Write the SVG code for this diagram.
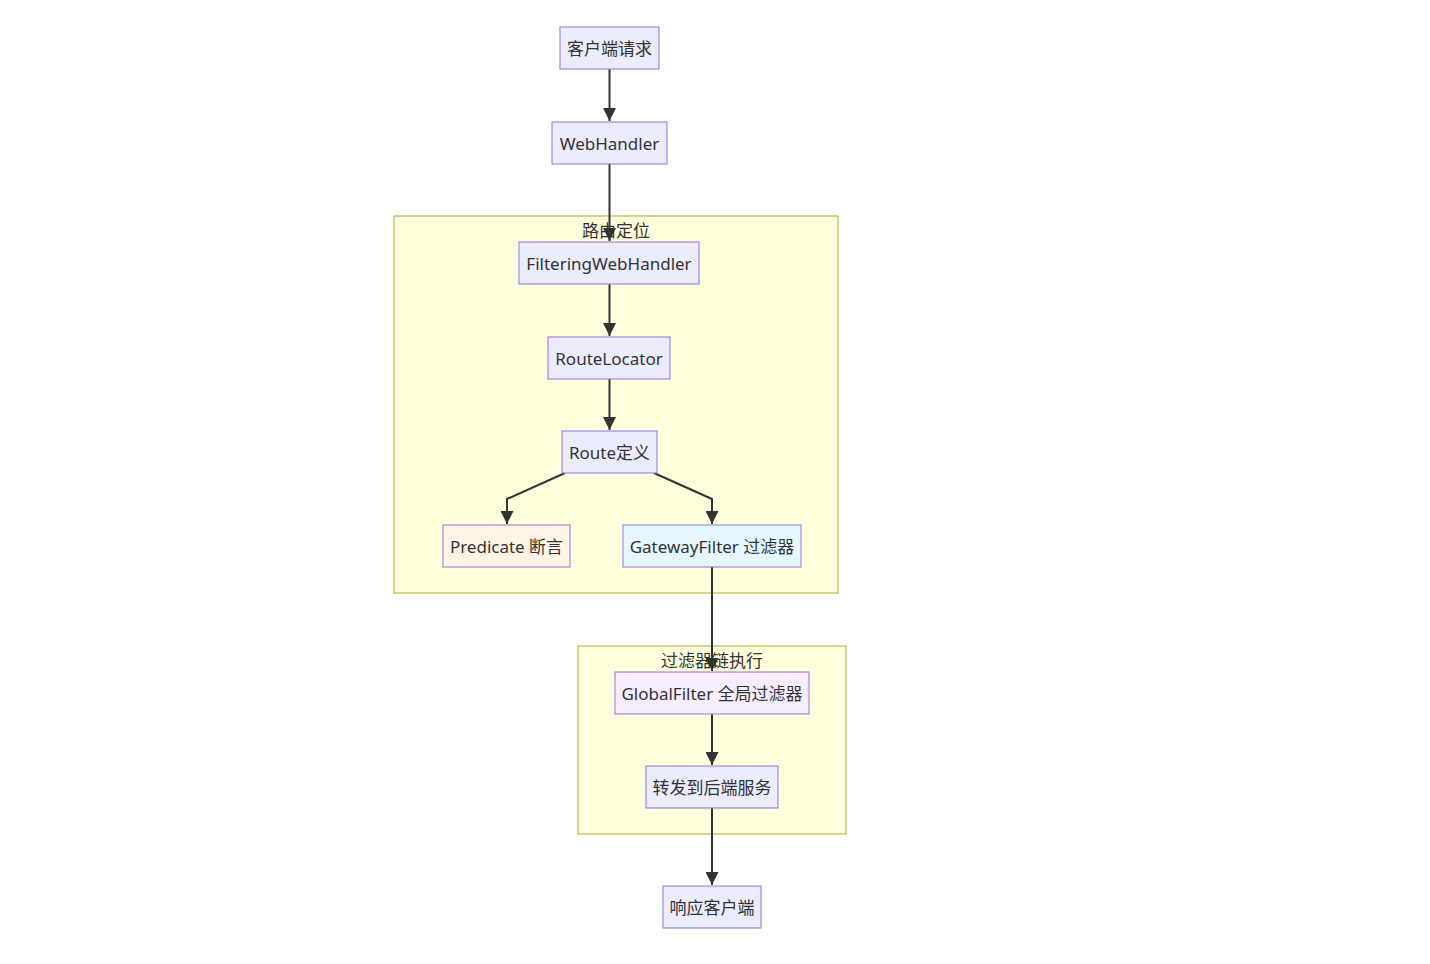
<svg xmlns="http://www.w3.org/2000/svg" width="1430" height="964" viewBox="0 0 1430 964">
<style>
text{font-family:"Noto Sans","Noto Sans CJK SC",sans-serif;font-size:17px;fill:#333;text-anchor:middle;dominant-baseline:central}
.cl{fill:#FFFFDE;stroke:#AAAA33;stroke-width:1}
.n{fill:#ECECFF;stroke:#9370DB;stroke-width:1}
.e{fill:none;stroke:#333;stroke-width:2}
</style>
<defs>
<marker id="ah" viewBox="0 0 10 10" refX="10" refY="5" markerWidth="6.5" markerHeight="6.5" markerUnits="strokeWidth" orient="auto">
<path d="M0,0L10,5L0,10z" fill="#333"/>
</marker>
</defs>
<g id="cluster-route">
<rect class="cl" x="394" y="216" width="444" height="377"/>
<text x="616" y="230">路由定位</text>
</g>
<g id="cluster-chain">
<rect class="cl" x="578" y="646" width="268" height="188"/>
<text x="712" y="660">过滤器链执行</text>
</g>
<g id="edges">
<path class="e" d="M609.5,69V121" marker-end="url(#ah)"/>
<path class="e" d="M609.5,164V241" marker-end="url(#ah)"/>
<path class="e" d="M609.5,284V336" marker-end="url(#ah)"/>
<path class="e" d="M609.5,379V430" marker-end="url(#ah)"/>
<path class="e" d="M565,473L507,499V524" marker-end="url(#ah)"/>
<path class="e" d="M654,473L712,499V524" marker-end="url(#ah)"/>
<path class="e" d="M712,567V671" marker-end="url(#ah)"/>
<path class="e" d="M712,714V765" marker-end="url(#ah)"/>
<path class="e" d="M712,808V885" marker-end="url(#ah)"/>
</g>
<g id="n-client"><rect class="n" x="560" y="27" width="99" height="42"/><text x="609.5" y="48">客户端请求</text></g>
<g id="n-webhandler"><rect class="n" x="552" y="122" width="115" height="42"/><text x="609.5" y="143">WebHandler</text></g>
<g id="n-fwh"><rect class="n" x="519" y="242" width="180" height="42"/><text x="609" y="263">FilteringWebHandler</text></g>
<g id="n-rl"><rect class="n" x="548" y="337" width="122" height="42"/><text x="609" y="358">RouteLocator</text></g>
<g id="n-route"><rect class="n" x="562" y="431" width="95" height="42"/><text x="609.5" y="452">Route定义</text></g>
<g id="n-pred"><rect x="443" y="525" width="127" height="42" fill="#FFF4E6" stroke="#9370DB"/><text x="506.5" y="546">Predicate 断言</text></g>
<g id="n-gf"><rect x="623" y="525" width="178" height="42" fill="#E6F7FF" stroke="#9370DB"/><text x="712" y="546">GatewayFilter 过滤器</text></g>
<g id="n-global"><rect x="615" y="672" width="194" height="42" fill="#F6EEFF" stroke="#9370DB"/><text x="712" y="693">GlobalFilter 全局过滤器</text></g>
<g id="n-forward"><rect class="n" x="646" y="766" width="132" height="42"/><text x="712" y="787">转发到后端服务</text></g>
<g id="n-resp"><rect class="n" x="663" y="886" width="98" height="42"/><text x="712" y="907">响应客户端</text></g>
</svg>
